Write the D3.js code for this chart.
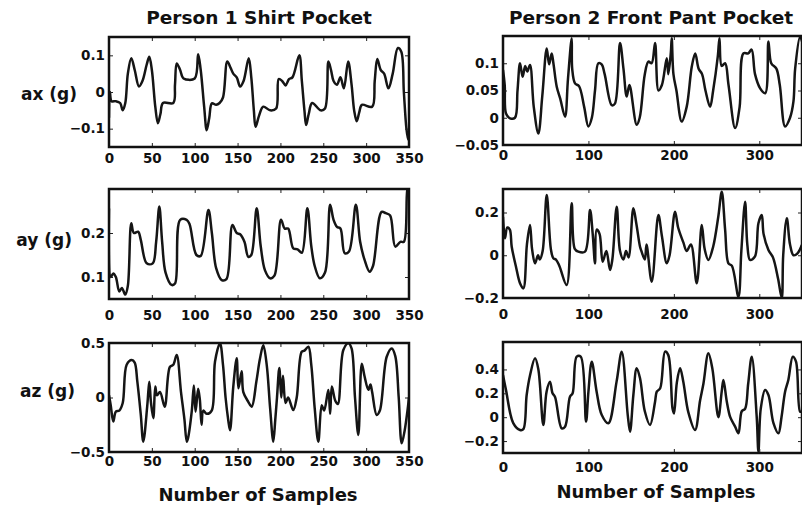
<!DOCTYPE html>
<html>
<head>
<meta charset="utf-8">
<script src="https://cdn.jsdelivr.net/npm/d3@7"></script>
<style>
  body { margin: 0; background: #fff; }
  svg { display: block; }
  text { font-family: "DejaVu Sans", sans-serif; font-weight: bold; fill: #111; }
  .tick text { font-size: 13.5px; }
</style>
</head>
<body>
<div id="the_chart"></div>
<script>
// samples (index, g)
var axShirt = [[0,-0.07],[1,0.0],[3,-0.025],[8,-0.025],[13,-0.03],[16,-0.05],[19,-0.03],[22,0.05],[26,0.092],[30,0.06],[35,0.015],[39,0.03],[44,0.075],[47,0.096],[50,0.06],[54,-0.04],[57,-0.085],[60,-0.06],[63,-0.03],[75,-0.03],[77,0.02],[79,0.078],[83,0.06],[87,0.037],[100,0.037],[104,0.103],[107,0.06],[111,-0.04],[114,-0.104],[117,-0.07],[120,-0.031],[125,-0.035],[129,-0.03],[133,-0.015],[138,0.083],[142,0.065],[145,0.05],[149,0.04],[153,0.015],[157,0.03],[163,0.092],[166,0.04],[169,-0.05],[171,-0.095],[175,-0.065],[180,-0.04],[188,-0.05],[195,-0.045],[198,0.035],[202,0.03],[206,0.018],[210,0.035],[214,0.04],[222,0.1],[225,0.03],[228,-0.05],[230,-0.09],[233,-0.06],[237,-0.03],[247,-0.05],[252,-0.045],[256,0.083],[259,0.06],[262,0.03],[266,0.02],[270,0.04],[274,0.01],[279,0.083],[283,0.02],[286,-0.05],[289,-0.08],[292,-0.055],[295,-0.035],[307,-0.04],[310,0.03],[313,0.09],[317,0.06],[321,0.05],[326,0.01],[331,0.05],[337,0.12],[341,0.11],[344,0.0],[347,-0.1],[349,-0.13],[350,-0.11]];

var ayShirt = [[0,0.256],[2,0.1],[5,0.108],[8,0.1],[12,0.067],[15,0.075],[19,0.06],[22,0.08],[26,0.222],[29,0.2],[34,0.203],[37,0.185],[44,0.131],[51,0.131],[55,0.18],[58.7,0.26],[62,0.18],[66,0.11],[73,0.082],[77,0.085],[83,0.23],[90.6,0.23],[94,0.22],[102,0.15],[107,0.148],[116,0.252],[120,0.2],[125,0.12],[131.5,0.093],[137,0.095],[144,0.218],[149,0.2],[153,0.197],[158,0.18],[162.5,0.146],[166,0.15],[172.3,0.256],[177,0.17],[182,0.115],[188,0.097],[193,0.103],[200.7,0.23],[205,0.21],[209,0.21],[215,0.165],[220,0.163],[225,0.155],[231.4,0.256],[236,0.17],[240,0.125],[246,0.097],[252,0.11],[258,0.264],[262,0.23],[266,0.214],[270,0.21],[275,0.154],[280,0.158],[288,0.264],[293,0.18],[298,0.14],[304,0.112],[308,0.125],[318,0.248],[323,0.245],[328,0.24],[334,0.169],[340,0.18],[344,0.18],[348,0.298],[350,0.31]];

var azShirt = [[0,0.02],[2,-0.07],[5,-0.22],[8,-0.13],[12,-0.12],[16,-0.05],[20.6,0.3],[26.5,0.344],[30,0.32],[33,0.15],[37,-0.15],[40,-0.405],[44.7,-0.07],[47,0.145],[49,-0.05],[51.7,-0.19],[54,0.1],[56,0.02],[59.5,0.05],[65,-0.084],[71,0.28],[75,0.3],[79,0.39],[84,0.05],[88,-0.2],[90.7,-0.405],[92,-0.38],[96.5,-0.13],[99,0.11],[101,-0.13],[104,0.08],[106,-0.02],[108,-0.25],[110,-0.12],[114,-0.15],[119.8,-0.12],[123.7,0.33],[129.5,0.497],[133,0.3],[136,0.0],[139,-0.2],[141.2,-0.3],[145,0.1],[149,0.36],[151,0.084],[154.8,0.24],[156.7,0.05],[162.5,-0.04],[166.5,-0.084],[172,0.15],[176,0.35],[180,0.48],[184,0.3],[188,-0.1],[191.7,-0.405],[194,-0.2],[196,0.0],[198.7,0.27],[201,0.0],[203,0.2],[206,-0.05],[209,0.0],[215,-0.115],[219,0.0],[224.8,0.42],[228,0.43],[232.6,0.466],[236,0.3],[240,-0.1],[244.2,-0.405],[248.2,-0.07],[251,-0.12],[255.9,0.069],[258,-0.15],[260,0.1],[264,-0.03],[267,-0.06],[273.4,0.436],[279.3,0.497],[283,0.45],[287,0.0],[290.9,-0.344],[294.9,0.31],[298,0.2],[302.6,0.07],[305,0.12],[307,0.05],[312.3,-0.16],[316,-0.12],[324,0.374],[329.9,0.45],[334,0.38],[338,0.0],[341.5,-0.42],[345,-0.3],[348.8,-0.084],[350,0.0]];

var axPant = [[0,0.088],[2,0.06],[3.5,0.008],[8.2,-0.001],[14,0.0],[17,0.05],[19.9,0.1],[23,0.075],[26,0.095],[28.5,0.085],[31.6,0.097],[36,0.02],[41.4,-0.029],[46,0.04],[51.2,0.127],[54,0.098],[57,0.118],[59,0.1],[62.9,0.057],[67,0.035],[72.6,0.002],[76,0.07],[80.4,0.146],[81,0.09],[84.3,0.063],[89,0.058],[95,0.02],[99.9,-0.016],[104,0.0],[107.7,0.05],[111.6,0.1],[115.5,0.098],[119,0.08],[127.3,0.023],[131,0.026],[137,0.137],[141,0.09],[144.8,0.039],[148,0.06],[156.5,-0.013],[160,0.0],[166,0.08],[170.2,0.103],[174,0.1],[178,0.137],[182,0.05],[186,0.06],[191.7,0.109],[193.5,0.08],[196.5,0.12],[197.5,0.146],[199.5,0.08],[203,0.05],[209.2,-0.007],[215,0.02],[221,0.094],[225,0.118],[229,0.09],[233,0.08],[237,0.05],[242.4,0.02],[246,0.05],[251.4,0.112],[253.4,0.146],[256,0.095],[260,0.1],[264,0.06],[271.7,-0.019],[277,0.02],[281.4,0.118],[287,0.118],[291,0.125],[295,0.08],[301,0.054],[307,0.045],[310.7,0.14],[314,0.1],[320,0.09],[324,0.06],[330.2,-0.016],[336,0.0],[340,0.03],[342,0.09],[347.8,0.149],[350,0.14]];

var ayPant = [[0,0.18],[2.3,0.079],[5,0.13],[8,0.12],[10.2,0.04],[15,-0.05],[19.9,-0.131],[23.8,-0.155],[28,0.05],[31.6,0.142],[34,0.03],[37.5,-0.038],[41,0.0],[43,-0.02],[46.4,0.02],[51.2,0.282],[56,0.03],[58.9,-0.014],[62,-0.02],[66,-0.05],[74.5,-0.139],[80.4,0.243],[84,0.03],[88.2,0.017],[96,0.017],[101.9,0.212],[105,0.1],[107.7,-0.038],[109.6,0.12],[113,0.1],[116.7,-0.03],[121,0.02],[125.3,-0.069],[128,-0.02],[133.1,0.227],[137,0.02],[141,-0.02],[144,0.02],[147,-0.01],[152.6,0.22],[156,0.15],[160.4,0.04],[162,0.02],[166,-0.02],[168,0.05],[174.1,-0.124],[181.9,0.188],[186,0.09],[191.7,-0.038],[195,0.0],[201.4,0.204],[205,0.13],[211.1,0.06],[215,0.02],[220,0.05],[226.8,-0.131],[232.7,0.142],[236,0.03],[240.4,-0.022],[246,0.04],[252,0.18],[256.1,0.297],[260,0.12],[263.9,-0.038],[268,-0.05],[275.6,-0.194],[279,0.02],[283.4,0.25],[286,0.05],[289.2,-0.022],[295,-0.005],[299,0.15],[302.9,0.188],[305,0.1],[310.7,0.025],[316,-0.01],[322,-0.11],[326.3,-0.2],[328,0.0],[332.2,0.173],[336,0.05],[340,0.0],[345,0.01],[349.8,0.048]];

var azPant = [[0,0.354],[3.5,0.228],[12,-0.05],[19.9,-0.107],[23.8,-0.1],[27.7,0.186],[31.6,0.35],[37.5,0.494],[41.4,0.4],[47.2,-0.065],[51,0.214],[55,0.298],[58,0.2],[60.9,0.17],[68.7,-0.093],[72.6,-0.08],[78.4,0.172],[81.5,0.2],[86.3,0.507],[91,0.507],[97.2,-0.037],[100,0.214],[103.9,0.465],[109.6,0.214],[115.5,0.02],[123.3,-0.051],[133,0.3],[139,0.549],[146,0.02],[148.7,-0.121],[152.6,0.186],[156.5,0.41],[160.4,0.326],[166,0.05],[172.1,-0.065],[178,0.13],[180,0.214],[184,0.242],[189.7,0.549],[193.5,0.52],[198.5,0.07],[200.2,0.031],[203.5,0.29],[207.3,0.41],[211,0.3],[217,0.04],[224.8,-0.107],[230.7,0.14],[234.6,0.28],[240.4,0.535],[245,0.41],[252.1,0.0],[256,0.214],[258,0.312],[262,0.13],[266,0.0],[271.7,-0.079],[275.6,-0.135],[279.5,0.05],[283.4,0.07],[287,0.28],[291.2,0.507],[297,0.0],[299,-0.289],[301.7,0.07],[306.8,0.228],[310.7,0.186],[316.6,-0.05],[322.4,-0.135],[326,0.0],[330.2,0.214],[334,0.312],[339.2,0.507],[343,0.465],[347.8,0.046],[350,0.05]];

// tick values
var shirtXTicks = [0,50,100,150,200,250,300,350];
var pantXTicks = [0,100,200,300];
var axShirtTicks = [-0.1,0,0.1];
var ayShirtTicks = [0.1,0.2];
var azShirtTicks = [-0.5,0,0.5];
var axPantTicks = [-0.05,0,0.05,0.1];
var ayPantTicks = [-0.2,0,0.2];
var azPantTicks = [-0.2,0,0.2,0.4];

var titles = ["Person 1 Shirt Pocket", "Person 2 Front Pant Pocket"];
var yLabels = ["ax (g)", "ay (g)", "az (g)"];
var xLabel = "Number of Samples";

var w = 802, h = 508;

var panels = [
  {data: axShirt, xr: [109,409], yr: [147,37],  yd: [-0.15,0.15], yt: axShirtTicks, xt: shirtXTicks, pad: 6,  yl: 0, ylx: 77, yly: 100},
  {data: ayShirt, xr: [109,409], yr: [299,189], yd: [0.05,0.3],   yt: ayShirtTicks, xt: shirtXTicks, pad: 11, yl: 1, ylx: 72, yly: 246},
  {data: azShirt, xr: [109,409], yr: [452,343], yd: [-0.5,0.5],   yt: azShirtTicks, xt: shirtXTicks, pad: 4,  yl: 2, ylx: 75, yly: 397},
  {data: axPant,  xr: [503,802], yr: [145,36],  yd: [-0.05,0.15], yt: axPantTicks,  xt: pantXTicks,  pad: 5},
  {data: ayPant,  xr: [503,802], yr: [298,189], yd: [-0.2,0.31],  yt: ayPantTicks,  xt: pantXTicks,  pad: 11},
  {data: azPant,  xr: [503,802], yr: [453,342], yd: [-0.3,0.63],  yt: azPantTicks,  xt: pantXTicks,  pad: 9}
];

var svg = d3.select("#the_chart")
            .append("svg")
            .attr("width", w)
            .attr("height", h);

svg.append("rect").attr("width", w).attr("height", h).attr("fill", "#fff");

function fmt(d) {
    return d == 0 ? "0" : String(d).replace("-", "\u2212");
}

panels.forEach(function(p, i) {
    var xscale = d3.scaleLinear().domain([0,350]).range(p.xr);
    var yscale = d3.scaleLinear().domain(p.yd).range(p.yr);

    svg.append("clipPath").attr("id", "clip" + i)
       .append("rect")
       .attr("x", p.xr[0]).attr("y", p.yr[1])
       .attr("width", p.xr[1] - p.xr[0]).attr("height", p.yr[0] - p.yr[1]);

    var line = d3.line()
                 .curve(d3.curveCatmullRom.alpha(0.5))
                 .x(function(d) { return xscale(d[0]); })
                 .y(function(d) { return yscale(d[1]); });

    svg.append("path")
       .datum(p.data)
       .attr("d", line)
       .attr("clip-path", "url(#clip" + i + ")")
       .attr("fill", "none")
       .attr("stroke", "#151515")
       .attr("stroke-width", 2.5)
       .attr("stroke-linejoin", "round");

    svg.append("g")
       .attr("transform", "translate(0," + p.yr[0] + ")")
       .call(d3.axisBottom(xscale).tickValues(p.xt).tickSize(-4).tickPadding(p.pad).tickFormat(fmt));
    svg.append("g")
       .attr("transform", "translate(0," + p.yr[1] + ")")
       .call(d3.axisTop(xscale).tickValues(p.xt).tickSize(-4).tickFormat(""));
    svg.append("g")
       .attr("transform", "translate(" + p.xr[0] + ",0)")
       .call(d3.axisLeft(yscale).tickValues(p.yt).tickSize(-4).tickPadding(4).tickFormat(fmt));
    svg.append("g")
       .attr("transform", "translate(" + p.xr[1] + ",0)")
       .call(d3.axisRight(yscale).tickValues(p.yt).tickSize(-4).tickFormat(""));

    svg.selectAll(".domain").remove();
    svg.selectAll(".tick line").attr("stroke", "#222");

    svg.append("rect")
       .attr("x", p.xr[0]).attr("y", p.yr[1])
       .attr("width", p.xr[1] - p.xr[0]).attr("height", p.yr[0] - p.yr[1])
       .attr("fill", "none")
       .attr("stroke", "#111")
       .attr("stroke-width", 2.5);

    if (p.yl != null) {
        svg.append("text")
           .attr("x", p.ylx).attr("y", p.yly)
           .attr("text-anchor", "end")
           .style("font-size", "17px")
           .text(yLabels[p.yl]);
    }
});

svg.append("text").attr("x", 259).attr("y", 24).attr("text-anchor", "middle")
   .style("font-size", "18.5px").text(titles[0]);
svg.append("text").attr("x", 651).attr("y", 24).attr("text-anchor", "middle")
   .style("font-size", "18.5px").text(titles[1]);

svg.append("text").attr("x", 258).attr("y", 501).attr("text-anchor", "middle")
   .style("font-size", "18px").text(xLabel);
svg.append("text").attr("x", 656).attr("y", 498).attr("text-anchor", "middle")
   .style("font-size", "18px").text(xLabel);
</script>
</body>
</html>
